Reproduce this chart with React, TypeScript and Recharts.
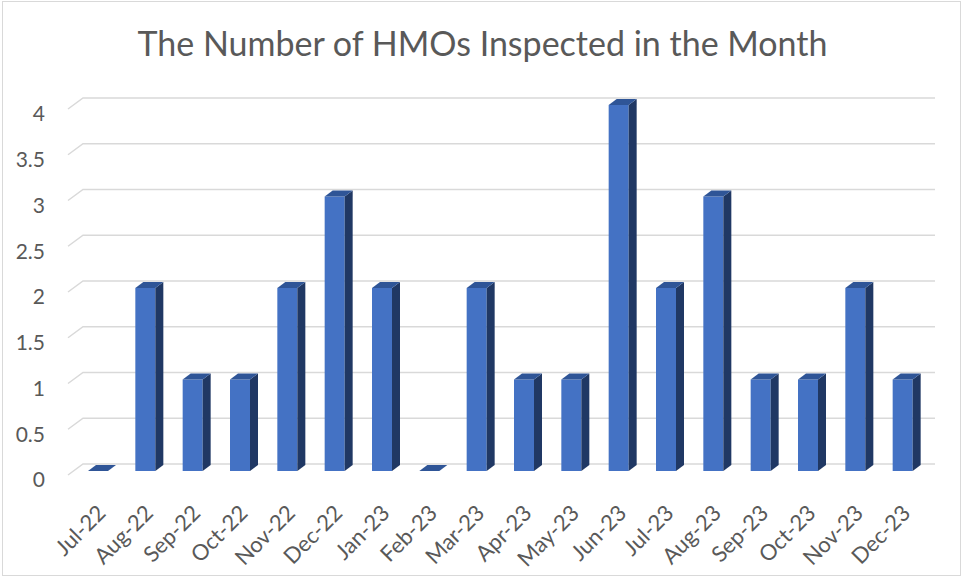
import React from "react";
import { BarChart, Bar, XAxis, YAxis, CartesianGrid } from "recharts";

const months = [
  "Jul-22", "Aug-22", "Sep-22", "Oct-22", "Nov-22", "Dec-22", "Jan-23", "Feb-23", "Mar-23",
  "Apr-23", "May-23", "Jun-23", "Jul-23", "Aug-23", "Sep-23", "Oct-23", "Nov-23", "Dec-23",
];
const inspected = [0, 2, 1, 1, 2, 3, 2, 0, 2, 1, 1, 4, 2, 3, 1, 1, 2, 1];
const yTicks = [0, 0.5, 1, 1.5, 2, 2.5, 3, 3.5, 4];

const chartData = months.map((m, i) => ({ month: m, count: inspected[i] }));

const FONT = "Lato, 'Open Sans', sans-serif";
const TEXT = "#595959";
const DX = 8;
const DY = 6;

const Bar3D = (props: any) => {
  const { x, y, width, height } = props;
  const h = Math.max(0, height || 0);
  const top = `M${x},${y} L${x + width},${y} L${x + width + DX},${y - DY} L${x + DX},${y - DY} Z`;
  const side = `M${x + width},${y} L${x + width + DX},${y - DY} L${x + width + DX},${y + h - DY} L${x + width},${y + h} Z`;
  return (
    <g>
      {h > 0 && <rect x={x} y={y} width={width} height={h} fill="#4472C4" />}
      {h > 0 && <path d={side} fill="#203864" />}
      <path d={top} fill="#2F5597" />
    </g>
  );
};

const GridLine = (props: any) => {
  const { x1, x2, y1 } = props;
  return (
    <path
      d={`M${x1 - 6},${y1 + 4} L${x1 + 9},${y1 - 7} L${x2 + 9},${y1 - 7}`}
      stroke="#D9D9D9"
      strokeWidth={1.5}
      fill="none"
    />
  );
};

const XTick = (props: any) => {
  const { x, y, payload } = props;
  return (
    <text
      transform={`translate(${x + 4},${y + 30}) rotate(-45)`}
      textAnchor="end"
      fill={TEXT}
      fontSize={22}
      fontFamily={FONT}
      dy="0.35em"
    >
      {payload.value}
    </text>
  );
};

const YTick = (props: any) => {
  const { y, payload } = props;
  return (
    <text x={45} y={y + 9} textAnchor="end" fill={TEXT} fontSize={21} fontFamily={FONT} dy="0.35em">
      {payload.value}
    </text>
  );
};

export default function App() {
  return (
    <div
      style={{
        position: "fixed",
        left: 0,
        top: 0,
        width: 965,
        height: 580,
        background: "#fff",
      }}
    >
      <div
        style={{
          position: "absolute",
          left: 2,
          top: 1,
          width: 959,
          height: 575,
          border: "1.5px solid #D9D9D9",
          boxSizing: "border-box",
        }}
      />
      <div
        style={{
          position: "absolute",
          top: 22,
          left: 0,
          width: 965,
          textAlign: "center",
          fontFamily: FONT,
          fontSize: 34,
          color: TEXT,
        }}
      >
        The Number of HMOs Inspected in the Month
      </div>
      <div style={{ position: "absolute", left: 0, top: 0 }}>
        <BarChart
          width={965}
          height={580}
          data={chartData}
          margin={{ top: 105, right: 39, bottom: 0, left: 0 }}
          barCategoryGap={0}
        >
          <CartesianGrid vertical={false} horizontal={<GridLine />} />
          <XAxis
            dataKey="month"
            interval={0}
            height={109}
            axisLine={false}
            tickLine={false}
            tick={<XTick />}
          />
          <YAxis
            width={74}
            domain={[0, 4]}
            ticks={yTicks}
            axisLine={false}
            tickLine={false}
            tick={<YTick />}
          />
          <Bar dataKey="count" barSize={20} shape={<Bar3D />} isAnimationActive={false} />
        </BarChart>
      </div>
    </div>
  );
}
